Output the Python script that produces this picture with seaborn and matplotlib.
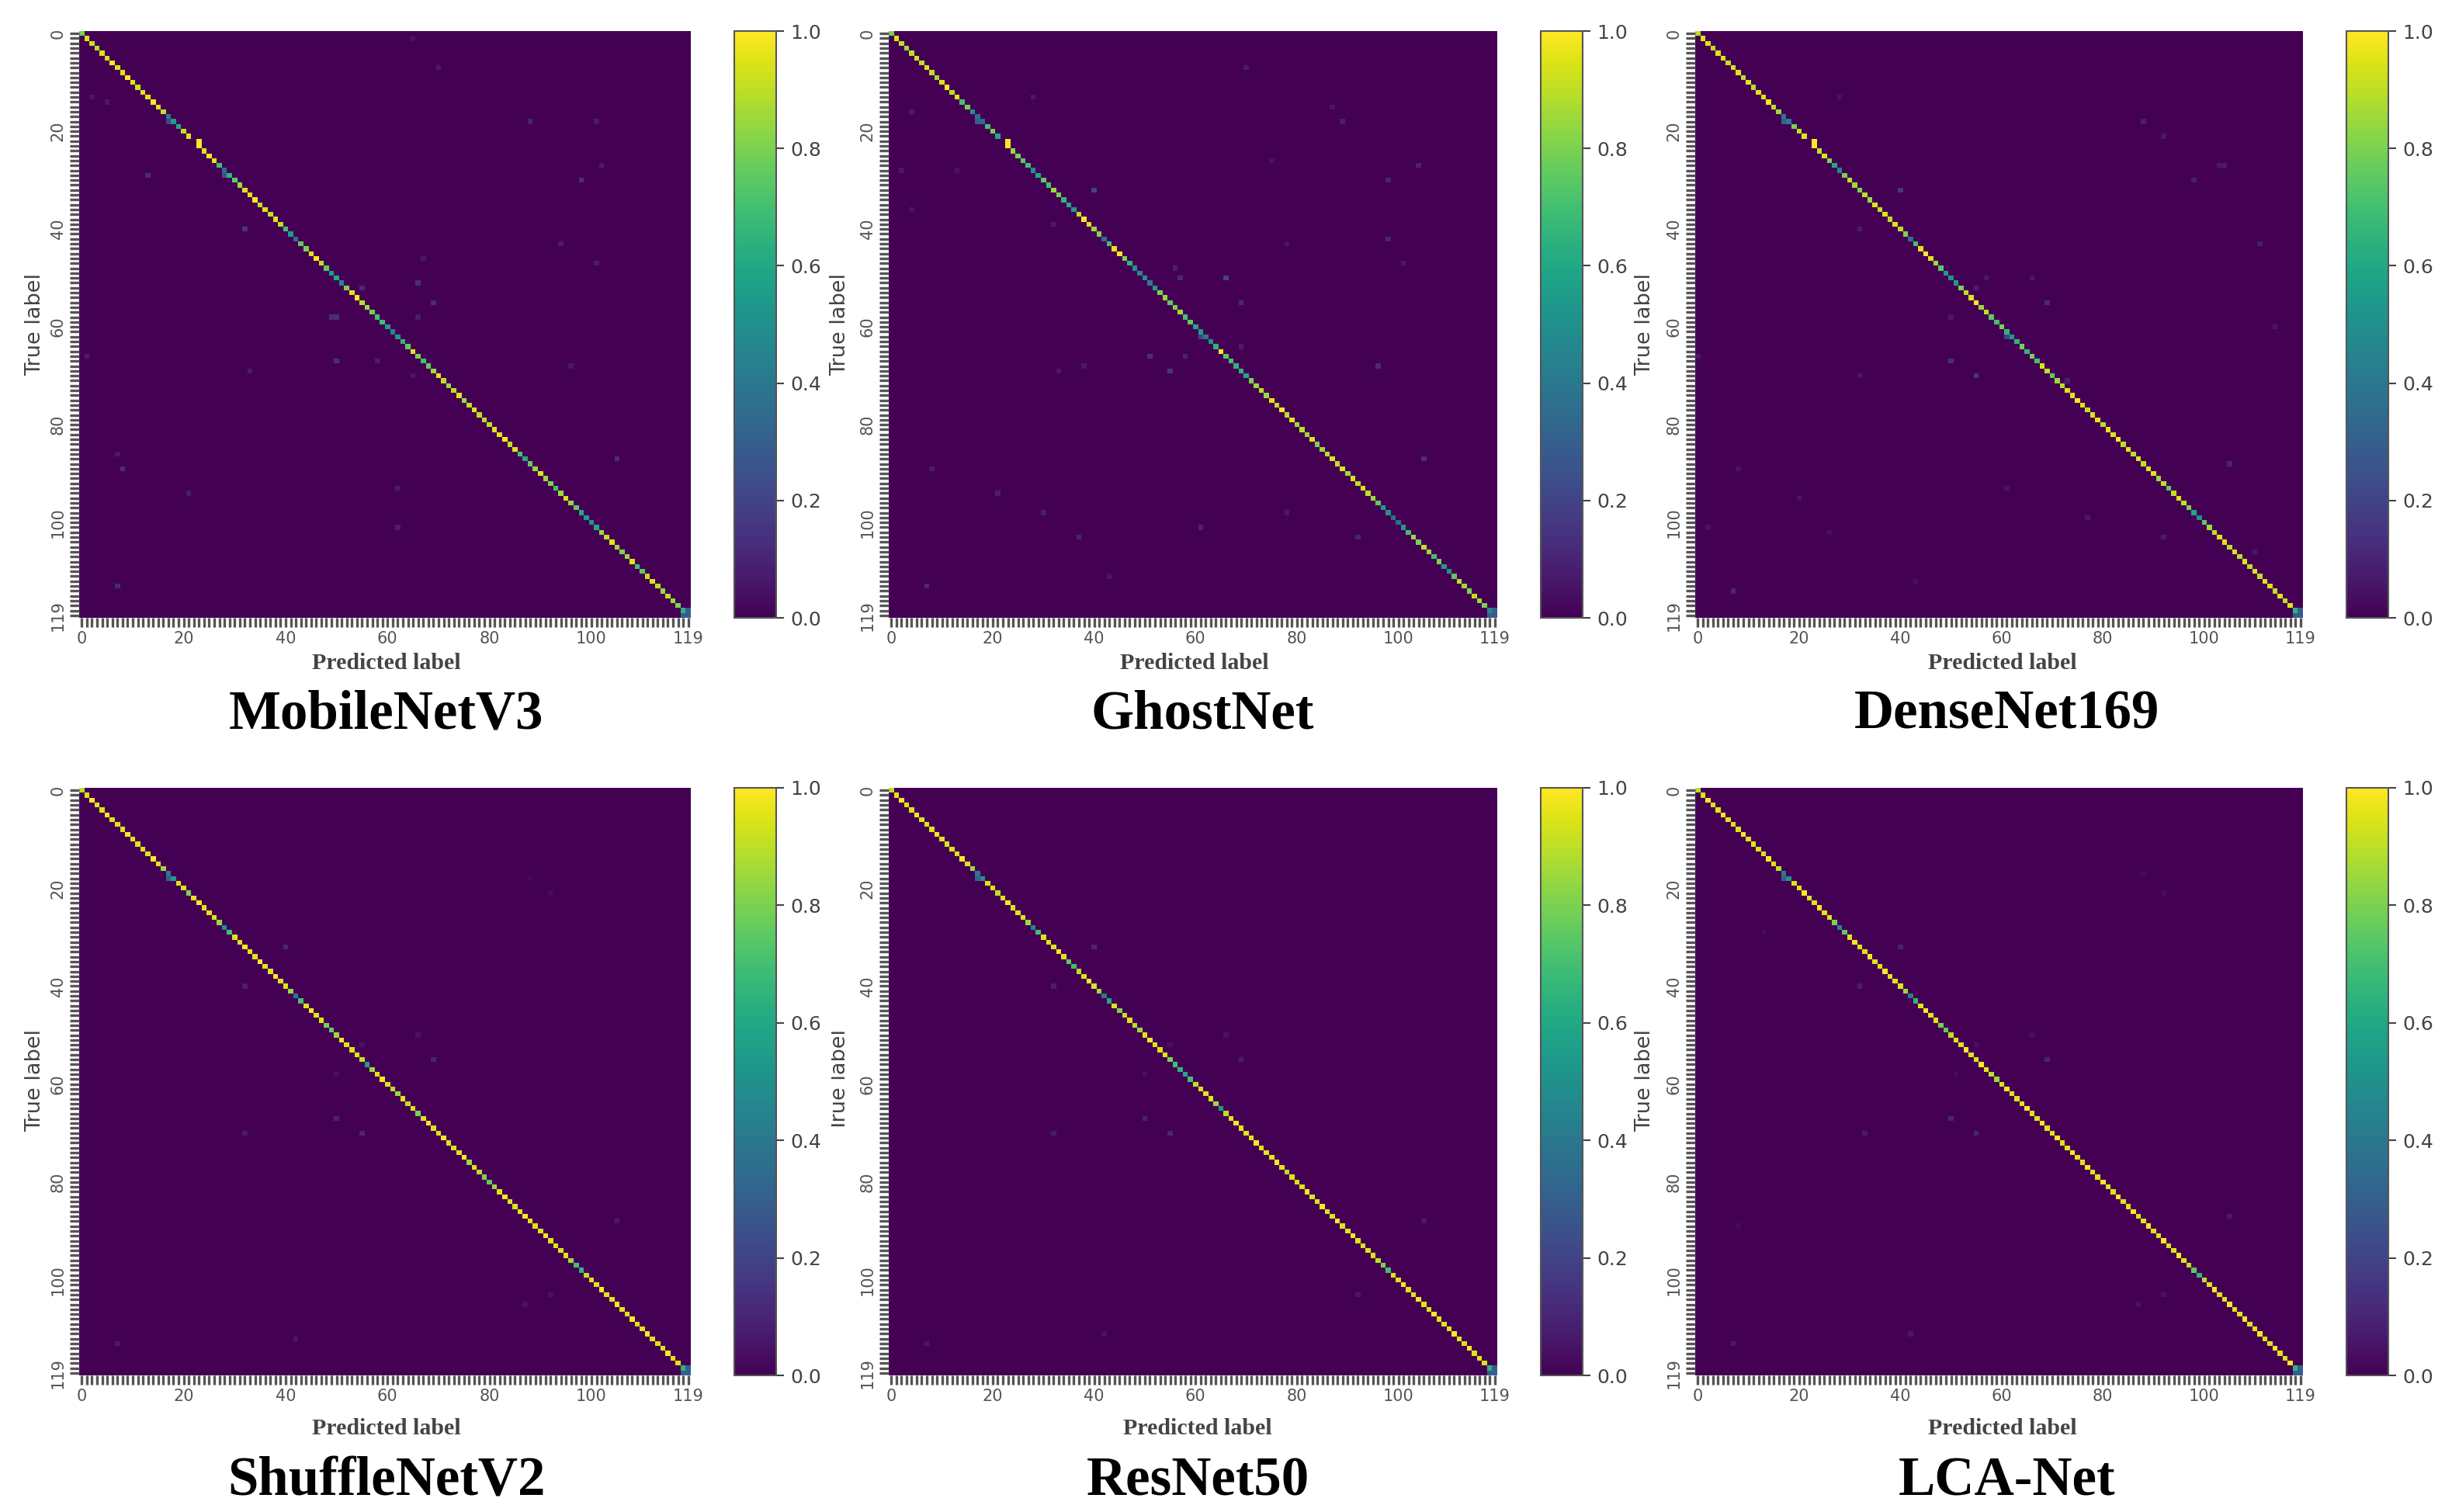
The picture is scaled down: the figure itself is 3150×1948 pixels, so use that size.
import numpy as np
import matplotlib
matplotlib.use("Agg")
import matplotlib.pyplot as plt
from matplotlib.patches import Rectangle
import seaborn as sns

# ---- data ----
model_names = ["MobileNetV3", "GhostNet", "DenseNet169", "ShuffleNetV2", "ResNet50", "LCA-Net"]

diag_mobile = [
    .80, .95, .92, .88, .95, .92, 1.0, .95, .95, 1.0,
    .95, .92, .95, .95, 1.0, .95, .90, .40, .55, .60,
    .90, .95, .00, 1.0, .95, 1.0, .95, .70, .35, .65,
    .75, .85, .95, .95, 1.0, .90, .95, .90, .95, .90,
    .70, .55, .35, .75, .80, .95, 1.0, .90, .75, .55,
    .60, .45, .80, .95, 1.0, .90, .85, .80, .70, .70,
    .55, .45, .55, .65, .75, .95, .80, .70, .75, .85,
    .95, .90, .85, .90, .95, .85, .90, .95, .90, .90,
    .90, .95, .95, 1.0, .90, .95, .70, .60, .75, .85,
    .95, .85, .80, .70, .85, .95, .85, .75, .60, .55,
    .50, .60, .85, .90, .95, .85, .80, .85, .95, .70,
    .75, .90, .95, .90, .85, .90, .85, .80, .65, .30]
diag_ghost = [
    .80, .95, .90, .85, .90, .92, .90, .95, .90, .85,
    .95, 1.0, .90, .95, .70, .80, .50, .35, .35, .70,
    .80, .60, .00, 1.0, .85, .80, .75, .70, .50, .60,
    .75, .70, .85, .80, .65, .60, .55, .90, 1.0, .95,
    .85, .80, .35, .70, .95, 1.0, .80, .65, .50, .45,
    .50, .40, .55, .80, .85, .75, .80, .85, .70, .75,
    .60, .55, .40, .50, .65, 1.0, .75, .70, .65, .65,
    .60, .80, .85, .90, .85, .95, .90, 1.0, .90, .95,
    .85, .90, .85, .95, .80, .85, .90, .95, .90, .95,
    .85, .95, .90, .95, .90, .85, .75, .55, .50, .35,
    .35, .55, .70, .85, .80, .90, .85, .70, .80, .55,
    .50, .75, .90, .85, .80, .90, .85, .80, .45, .30]
diag_dense = [
    .90, .95, .95, .90, .95, .95, .90, .95, .95, .90,
    .95, .90, .95, .95, 1.0, .90, .85, .40, .40, .80,
    .90, .95, .00, 1.0, .90, .95, .80, .60, .45, .80,
    .90, .85, .80, .90, .85, .95, .90, .95, .90, .95,
    .90, .80, .35, .70, .95, 1.0, .95, .85, .75, .55,
    .50, .55, .80, .90, .95, 1.0, .85, .90, .75, .70,
    .80, .65, .55, .65, .80, .65, .80, .70, .95, .90,
    .75, .85, .90, .95, .95, 1.0, .95, .90, .95, .95,
    .90, .95, .95, 1.0, .90, .95, .90, .95, .90, .95,
    .95, .85, .90, .75, .90, .95, .90, .80, .60, .50,
    .75, .85, .90, .95, .95, .90, .95, .90, .95, .90,
    .95, .90, .95, .95, .90, .95, .90, .95, .65, .30]
diag_shuffle = [
    .90, .95, 1.0, .95, .95, 1.0, .95, .95, .95, 1.0,
    .95, .95, .95, .95, 1.0, .95, .85, .40, .55, .95,
    .95, .80, .95, 1.0, .95, .95, .95, .85, .50, .70,
    .95, .95, 1.0, .95, .95, 1.0, .95, .95, 1.0, .95,
    .95, .85, .40, .70, .95, 1.0, .95, .95, .80, .75,
    .85, 1.0, .95, .95, .95, .90, .55, .85, .95, 1.0,
    .95, .90, .85, .95, .90, .95, .80, .95, 1.0, .95,
    .95, 1.0, .95, .95, .95, 1.0, .85, .95, .90, .80,
    .75, .85, .95, 1.0, .95, .95, .95, 1.0, .95, .95,
    .95, 1.0, .95, .95, .95, .95, .85, .70, .65, .90,
    .95, .95, 1.0, .95, .95, 1.0, .95, .95, 1.0, .95,
    .95, 1.0, .95, .95, .95, 1.0, .95, .95, .65, .30]
diag_resnet = [
    .90, .95, 1.0, .95, .95, 1.0, .95, .95, .95, 1.0,
    .95, .95, .95, .95, 1.0, .95, .85, .40, .50, .95,
    .95, .90, .95, 1.0, .95, .95, .95, .85, .45, .70,
    .95, .95, .95, 1.0, .95, .75, .70, .90, .95, 1.0,
    .95, .85, .40, .60, .95, .80, .90, .95, .90, .85,
    .95, 1.0, .95, .95, .95, .80, .70, .65, .60, .70,
    .90, .95, .95, .95, .85, .55, .90, .95, 1.0, .95,
    .95, .95, 1.0, .95, .95, .95, 1.0, .95, .90, .95,
    .95, .95, 1.0, .95, .95, 1.0, .95, .95, 1.0, .95,
    .95, 1.0, .95, .95, .95, .95, .90, .80, .70, .95,
    .95, 1.0, .95, .95, 1.0, .95, .95, 1.0, .95, .95,
    .95, 1.0, .95, .95, 1.0, .95, .95, .95, .65, .30]
diag_lca = [
    .90, .95, 1.0, .95, .95, 1.0, .95, .95, .95, 1.0,
    .95, .95, .95, .95, 1.0, .95, .90, .40, .50, .95,
    .95, 1.0, .95, .95, 1.0, .95, .95, .80, .45, .75,
    .95, 1.0, .95, .95, 1.0, .95, .95, 1.0, .95, .95,
    .95, .85, .40, .65, .95, 1.0, .95, .95, .80, .75,
    .90, .95, .95, 1.0, .95, .95, 1.0, .95, .90, .85,
    .95, 1.0, .95, .95, .95, 1.0, .95, .95, 1.0, .95,
    .95, 1.0, .95, .95, 1.0, .95, .95, 1.0, .95, .95,
    1.0, .95, .95, 1.0, .95, .95, 1.0, .95, .95, 1.0,
    .95, .95, 1.0, .95, .95, 1.0, .95, .90, .75, .65,
    .90, .95, 1.0, .95, .95, 1.0, .95, .95, 1.0, .95,
    .95, 1.0, .95, .95, 1.0, .95, .95, 1.0, .65, .30]

# off diagonal cells: (true, predicted, value)
off_mobile = [(22, 23, 1.0), (18, 17, .20), (29, 28, .25), (118, 119, .30), (119, 118, .30),
              (18, 88, .10), (18, 101, .07), (29, 13, .12), (30, 98, .14), (27, 102, .08),
              (40, 32, .15), (43, 94, .08), (47, 101, .08), (46, 67, .06), (51, 66, .13),
              (52, 55, .12), (55, 69, .12), (58, 49, .12), (58, 50, .14), (58, 66, .08),
              (67, 50, .14), (67, 58, .08), (69, 33, .07), (70, 65, .06), (68, 96, .06),
              (87, 105, .14), (89, 8, .13), (86, 7, .07), (94, 21, .08), (93, 62, .07),
              (101, 62, .08), (113, 7, .12), (7, 70, .07), (13, 2, .06), (14, 5, .07),
              (1, 65, .05), (66, 1, .08)]
off_ghost = [(22, 23, 1.0), (18, 17, .30), (118, 119, .30), (119, 118, .30),
             (32, 40, .20), (13, 28, .07), (16, 4, .07), (7, 70, .07), (18, 89, .08),
             (15, 87, .06), (27, 104, .10), (30, 98, .10), (26, 75, .05), (28, 2, .06),
             (28, 13, .05), (36, 4, .05), (39, 32, .07), (42, 98, .10), (47, 101, .07),
             (43, 78, .05), (50, 66, .20), (50, 57, .12), (55, 69, .12), (48, 56, .08),
             (62, 61, .20), (66, 51, .14), (66, 58, .10), (69, 55, .15), (68, 38, .06),
             (69, 33, .06), (68, 96, .12), (64, 69, .08), (87, 105, .13), (89, 8, .08),
             (94, 21, .08), (98, 30, .08), (101, 61, .10), (103, 37, .10), (103, 92, .10),
             (98, 78, .07), (113, 7, .12), (111, 43, .06)]
off_dense = [(22, 23, 1.0), (18, 17, .30), (118, 119, .30), (119, 118, .30),
             (32, 40, .15), (18, 88, .08), (21, 92, .06), (27, 103, .06), (27, 104, .08),
             (30, 98, .08), (40, 32, .08), (43, 111, .08), (50, 57, .07), (52, 55, .08),
             (50, 66, .06), (55, 69, .12), (58, 50, .06), (62, 61, .20), (67, 50, .14),
             (70, 55, .15), (70, 32, .06), (66, 0, .07), (60, 114, .06), (71, 73, .08),
             (88, 105, .10), (89, 8, .05), (114, 7, .10), (95, 20, .05), (99, 77, .07),
             (103, 92, .07), (106, 110, .06), (102, 26, .05), (101, 2, .05), (112, 43, .04),
             (93, 61, .05), (13, 28, .05)]
off_shuffle = [(18, 17, .30), (118, 119, .30), (119, 118, .30),
               (32, 40, .10), (40, 32, .08), (50, 66, .05), (55, 69, .10), (52, 55, .05),
               (67, 50, .10), (70, 55, .10), (70, 32, .07), (88, 105, .07), (113, 7, .07),
               (112, 42, .06), (103, 92, .05), (105, 87, .05), (18, 88, .03), (21, 92, .03),
               (58, 50, .04)]
off_resnet = [(18, 17, .30), (118, 119, .30), (119, 118, .30),
              (32, 40, .10), (40, 32, .08), (55, 69, .08), (50, 66, .05), (67, 50, .10),
              (70, 55, .10), (70, 32, .07), (88, 105, .07), (113, 7, .07), (111, 42, .05),
              (103, 92, .06), (58, 50, .04), (52, 55, .04)]
off_lca = [(18, 17, .30), (118, 119, .30), (119, 118, .30),
           (32, 40, .10), (40, 32, .08), (55, 69, .10), (50, 66, .04), (52, 55, .04),
           (67, 50, .10), (70, 55, .10), (70, 33, .07), (87, 105, .07), (113, 7, .07),
           (111, 42, .06), (105, 87, .05), (103, 92, .05), (89, 8, .03), (29, 13, .03),
           (21, 92, .03), (17, 88, .03), (58, 51, .03)]

all_diag = [diag_mobile, diag_ghost, diag_dense, diag_shuffle, diag_resnet, diag_lca]
all_off = [off_mobile, off_ghost, off_dense, off_shuffle, off_resnet, off_lca]

tick_names = ["0", "20", "40", "60", "80", "100", "119"]
tick_cells = [0, 20, 40, 60, 80, 100, 119]
n_classes = 120

# ---- layout in pixels of the 3150x1948 picture ----
W, H = 3150, 1948
col_left = [102, 1145, 2184]
col_right = [890, 1929, 2967]
cbar_left = [946, 1985, 3023]
cbar_w = 54
row_top = [40, 1015]
row_bot = [796, 1772]

title_x = [[498, 1549, 2586], [498, 1543, 2586]]
title_y = [921, 1909]
pred_x = [[498, 1539, 2580], [498, 1543, 2580]]
pred_y = [854, 1840]
true_x = [45, 1082, 2119]
true_y = [418, 1392]


def px_rect(l, t, r, b):
    return [l / W, 1 - b / H, (r - l) / W, (b - t) / H]


fig = plt.figure(figsize=(W / 100, H / 100), dpi=100, facecolor="white")

labels = [""] * n_classes
for c, s in zip(tick_cells, tick_names):
    labels[c] = s

for k in range(6):
    r, c = k // 3, k % 3
    cm = np.zeros((n_classes, n_classes))
    cm[np.arange(n_classes), np.arange(n_classes)] = all_diag[k]
    for t, p, v in all_off[k]:
        cm[t, p] = v

    ax = fig.add_axes(px_rect(col_left[c], row_top[r], col_right[c], row_bot[r]))
    cax = fig.add_axes(px_rect(cbar_left[c], row_top[r], cbar_left[c] + cbar_w, row_bot[r]))
    sns.heatmap(cm, vmin=0, vmax=1, cmap="viridis", ax=ax, cbar_ax=cax,
                xticklabels=labels, yticklabels=labels)

    ax.tick_params(axis="x", length=8.5, width=2.4, color="#555555", labelsize=15,
                   labelcolor="#555555", rotation=0, pad=4)
    ax.tick_params(axis="y", length=8.5, width=2.4, color="#555555", labelsize=15,
                   labelcolor="#555555", rotation=90, pad=4)
    for lab in ax.get_yticklabels():
        lab.set_va("center")

    cax.tick_params(length=7, width=1.5, color="#444444", labelsize=18, labelcolor="#444444", pad=6)
    cax.set_yticks([0, .2, .4, .6, .8, 1.0])
    cax.set_yticklabels(["0.0", "0.2", "0.4", "0.6", "0.8", "1.0"])
    cb = ax.collections[0].colorbar
    cb.outline.set_visible(True)
    cb.outline.set_edgecolor("#555555")
    cb.outline.set_linewidth(1.5)

    fig.text(true_x[c] / W, 1 - true_y[r] / H, "True label", rotation=90, ha="center", va="center",
             fontsize=19.5, color="#444444")
    fig.text(pred_x[r][c] / W, 1 - pred_y[r] / H, "Predicted label", ha="center", va="center",
             fontsize=21.5, fontweight="bold", family="Liberation Serif", color="#444444")
    fig.text(title_x[r][c] / W, 1 - title_y[r] / H, model_names[k], ha="center", va="center",
             fontsize=51, fontweight="bold", family="Liberation Serif", color="black")

# the ResNet50 y label is cropped along its left edge in the original figure
fig.add_artist(Rectangle((1060 / W, 1 - 1480 / H), 11 / W, 170 / H, transform=fig.transFigure,
                         facecolor="white", edgecolor="none", zorder=10))

fig.savefig("out.png", dpi=100)
